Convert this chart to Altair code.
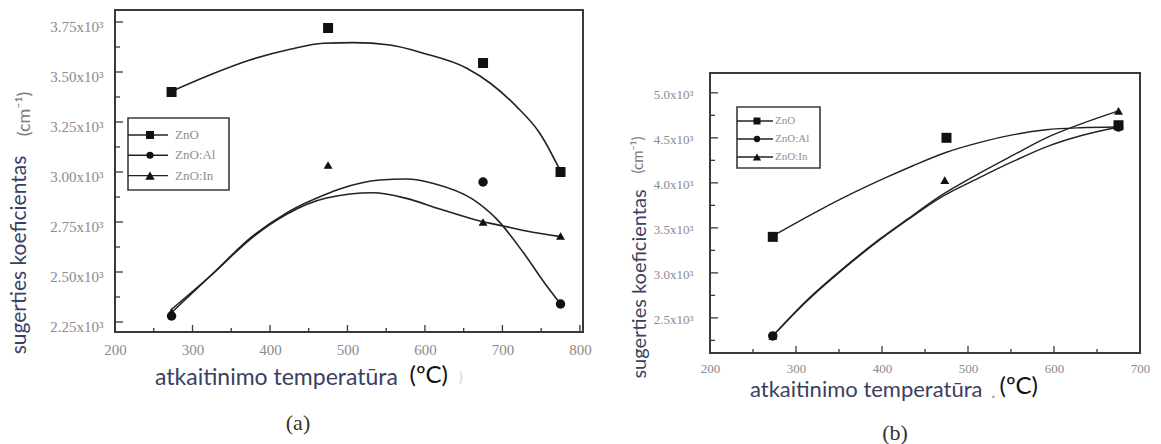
import altair as alt
import pandas as pd

SERIES = ["ZnO", "ZnO:Al", "ZnO:In"]
SHAPES = ["square", "circle", "triangle-up"]

# ---- (a) measured absorption coefficients (x10^3 cm^-1) ----
A_ZNO_T = [273, 475, 675, 775]
A_ZNO_V = [3.40, 3.72, 3.545, 3.00]
A_AL_T = [273, 675, 775]
A_AL_V = [2.28, 2.95, 2.34]
A_IN_T = [273, 475, 675, 775]
A_IN_V = [2.30, 3.035, 2.75, 2.68]

# ---- (a) fitted curves ----
A_ZNO_FIT_T = [273, 323, 374, 426, 469, 508, 555, 598, 654, 684, 718, 748, 775]
A_ZNO_FIT_V = [3.403, 3.486, 3.560, 3.614, 3.644, 3.647, 3.635, 3.594, 3.519, 3.445, 3.328, 3.195, 3.004]
A_AL_FIT_T = [271, 323, 378, 422, 473, 490, 542, 576, 611, 662, 693, 727, 757, 775]
A_AL_FIT_V = [2.290, 2.480, 2.680, 2.797, 2.890, 2.915, 2.960, 2.965, 2.943, 2.863, 2.763, 2.597, 2.431, 2.340]
A_IN_FIT_T = [272, 323, 378, 422, 473, 533, 576, 619, 671, 701, 731, 775]
A_IN_FIT_V = [2.310, 2.480, 2.675, 2.790, 2.870, 2.896, 2.868, 2.815, 2.755, 2.730, 2.705, 2.677]

# ---- (b) measured absorption coefficients ----
B_ZNO_T = [273, 475, 675]
B_ZNO_V = [3.40, 4.50, 4.64]
B_AL_T = [273, 675]
B_AL_V = [2.30, 4.62]
B_IN_T = [273, 473, 675]
B_IN_V = [2.30, 4.03, 4.80]

# ---- (b) fitted curves ----
B_ZNO_FIT_T = [273, 328, 367, 405, 436, 475, 514, 553, 591, 630, 673]
B_ZNO_FIT_V = [3.41, 3.70, 3.89, 4.06, 4.19, 4.34, 4.45, 4.535, 4.59, 4.612, 4.62]
B_AL_FIT_T = [273, 312, 351, 398, 430, 467, 514, 553, 591, 630, 675]
B_AL_FIT_V = [2.30, 2.68, 3.01, 3.37, 3.59, 3.83, 4.06, 4.24, 4.40, 4.52, 4.62]
B_IN_FIT_T = [273, 312, 351, 398, 430, 467, 514, 553, 591, 630, 675]
B_IN_FIT_V = [2.30, 2.69, 3.02, 3.38, 3.60, 3.85, 4.11, 4.31, 4.50, 4.65, 4.80]

# ---- axis ticks ----
A_X_LABELS = [200, 300, 400, 500, 600, 700, 800]
A_X_MAJOR = [300, 400, 500, 600, 700, 800]
A_X_MINOR = [250, 350, 450, 550, 650, 750]
A_Y_MAJOR = [2.25, 2.50, 2.75, 3.00, 3.25, 3.50, 3.75]
A_Y_MINOR = [2.375, 2.625, 2.875, 3.125, 3.375, 3.625]

B_X_LABELS = [200, 300, 400, 500, 600, 700]
B_X_MAJOR = [300, 400, 500, 600]
B_X_MINOR = [250, 350, 450, 550, 650]
B_Y_MAJOR = [2.5, 3.0, 3.5, 4.0, 4.5, 5.0]
B_Y_MINOR = [2.25, 2.75, 3.25, 3.75, 4.25, 4.75]

SERIF = "Liberation Serif"
SANS = "Lato"
FRAME = "#3a3a3a"
INK = "#222222"
GRAY = "#8a8a8a"
TITLE_INK = "#3a4062"


def long_table(groups):
    rows = []
    for name, ts, vs in groups:
        for t, v in zip(ts, vs):
            rows.append({"series": name, "t": t, "v": v})
    return pd.DataFrame(rows)


def one_row():
    return alt.Data(values=[{}])


def text_layer(txt, x, y, size, color, font, angle=0, align="center", weight="normal"):
    return alt.Chart(one_row()).mark_text(
        text=txt, font=font, fontSize=size, color=color, angle=angle,
        align=align, baseline="middle", fontWeight=weight,
    ).encode(x=alt.value(x), y=alt.value(y))


def build_panel(c):
    W, H, top = c["W"], c["H"], c["top"]
    xs = alt.Scale(domain=c["xdom"], nice=False, zero=False)
    ys = alt.Scale(domain=c["ydom"], range=[H, top], nice=False, zero=False)

    x_axis = alt.Axis(
        values=c["xlabels"], title=None, ticks=False, domain=False, grid=False,
        labelFont=SERIF, labelFontSize=c["xlab_size"], labelColor=GRAY,
        labelPadding=c["xlab_pad"], labelAngle=0, labelFlush=False, format="d",
        zindex=1,
    )
    y_axis = alt.Axis(
        values=c["ymajor"], title=None, ticks=False, domain=False, grid=False,
        labelFont=SERIF, labelFontSize=c["ylab_size"], labelColor=GRAY,
        labelPadding=c["ylab_pad"], labelFlush=False, labelOffset=c["ylab_off"],
        labelExpr=f"format(datum.value, '{c['yfmt']}') + 'x10³'",
        zindex=1,
    )
    X = lambda: alt.X("t:Q", scale=xs, axis=x_axis, title=None)
    Y = lambda: alt.Y("v:Q", scale=ys, axis=y_axis, title=None)

    fits = long_table(c["fits"])
    pts = long_table(c["pts"])

    layers = []
    if c.get("canvas"):
        cx0, cy0, cx1, cy1 = c["canvas"]
        layers.append(
            alt.Chart(one_row()).mark_rect(fill="white", strokeWidth=0).encode(
                x=alt.value(cx0), x2=alt.value(cx1), y=alt.value(cy0), y2=alt.value(cy1)
            )
        )

    layers.append(
        alt.Chart(fits).mark_line(color=INK, strokeWidth=c["lw"], interpolate="monotone")
        .encode(x=X(), y=Y(), detail="series:N")
    )
    layers.append(
        alt.Chart(pts).mark_point(filled=True, color="#111111", opacity=1).encode(
            x=X(), y=Y(),
            shape=alt.Shape("series:N", scale=alt.Scale(domain=SERIES, range=SHAPES), legend=None),
            size=alt.Size("series:N", scale=alt.Scale(domain=SERIES, range=c["msizes"]), legend=None),
        )
    )

    # inward tick marks along the bottom and left edges
    for vals, ln in ((c["xmajor"], 7), (c["xminor"], 4)):
        layers.append(
            alt.Chart(pd.DataFrame({"t": vals})).mark_rule(color=FRAME, strokeWidth=1.3).encode(
                x=X(), y=alt.value(H), y2=alt.value(H - ln)
            )
        )
    for vals, ln in ((c["ymajor"], 8), (c["yminor"], 5)):
        layers.append(
            alt.Chart(pd.DataFrame({"v": vals})).mark_rule(color=FRAME, strokeWidth=1.3).encode(
                y=Y(), x=alt.value(0), x2=alt.value(ln)
            )
        )

    # plot frame
    layers.append(
        alt.Chart(one_row()).mark_rect(filled=False, stroke=FRAME, strokeWidth=2).encode(
            x=alt.value(0), x2=alt.value(W), y=alt.value(top), y2=alt.value(H)
        )
    )

    # legend box
    lg = c["legend"]
    layers.append(
        alt.Chart(one_row()).mark_rect(filled=False, stroke=FRAME, strokeWidth=1.6).encode(
            x=alt.value(lg["x0"]), x2=alt.value(lg["x1"]), y=alt.value(lg["y0"]), y2=alt.value(lg["y1"])
        )
    )
    for i, (name, shp, ms) in enumerate(zip(SERIES, SHAPES, lg["msizes"])):
        ry = lg["row0"] + i * lg["gap"]
        layers.append(
            alt.Chart(one_row()).mark_rule(color=INK, strokeWidth=1.4).encode(
                x=alt.value(lg["x0"]), x2=alt.value(lg["line_end"]), y=alt.value(ry)
            )
        )
        layers.append(
            alt.Chart(one_row()).mark_point(
                filled=True, color="#111111", opacity=1, shape=shp, size=ms
            ).encode(x=alt.value(lg["mx"]), y=alt.value(ry))
        )
        layers.append(text_layer(name, lg["tx"], ry, lg["fs"], "#8f8f8f", SERIF, align="left"))

    # axis titles and panel letter
    for t in c["texts"]:
        layers.append(text_layer(*t))

    return alt.layer(*layers).properties(width=W, height=H)


panel_a = build_panel(dict(
    W=468, H=322, top=0,
    xdom=[200, 804], ydom=[2.2, 3.81],
    xlabels=A_X_LABELS, xmajor=A_X_MAJOR, xminor=A_X_MINOR,
    ymajor=A_Y_MAJOR, yminor=A_Y_MINOR, yfmt=".2f",
    xlab_size=15, xlab_pad=10, ylab_size=15, ylab_pad=12, ylab_off=4,
    lw=1.6, msizes=[100, 80, 140],
    canvas=(-115, -10, 1046, 434),
    fits=[("ZnO", A_ZNO_FIT_T, A_ZNO_FIT_V), ("ZnO:Al", A_AL_FIT_T, A_AL_FIT_V),
          ("ZnO:In", A_IN_FIT_T, A_IN_FIT_V)],
    pts=[("ZnO", A_ZNO_T, A_ZNO_V), ("ZnO:Al", A_AL_T, A_AL_V), ("ZnO:In", A_IN_T, A_IN_V)],
    legend=dict(x0=13, x1=114, y0=108, y1=180, row0=125, gap=20.3,
                line_end=53, mx=35, tx=60, fs=13, msizes=[64, 50, 90]),
    texts=[
        ("sugerties koeficientas", -95, 245, 21, TITLE_INK, SANS, 270),
        ("(cm⁻¹)", -90, 104, 18, "#7a7a7a", SANS, 270),
        ("atkaitinimo temperatūra", 40, 368, 23, TITLE_INK, SANS, 0, "left"),
        ("(ºC)", 333, 366, 24, "#111111", SANS, 0, "right"),
        (")", 344, 368, 14, "#d0d0d0", SANS, 0, "left"),
        ("(a)", 183, 413, 22, "#333333", SERIF),
    ],
))

panel_b = build_panel(dict(
    W=430, H=343, top=63,
    xdom=[200, 700], ydom=[2.11, 5.22],
    xlabels=B_X_LABELS, xmajor=B_X_MAJOR, xminor=B_X_MINOR,
    ymajor=B_Y_MAJOR, yminor=B_Y_MINOR, yfmt=".1f",
    xlab_size=13, xlab_pad=9, ylab_size=13, ylab_pad=17, ylab_off=2,
    lw=1.4, msizes=[64, 55, 100],
    fits=[("ZnO", B_ZNO_FIT_T, B_ZNO_FIT_V), ("ZnO:Al", B_AL_FIT_T, B_AL_FIT_V),
          ("ZnO:In", B_IN_FIT_T, B_IN_FIT_V)],
    pts=[("ZnO", B_ZNO_T, B_ZNO_V), ("ZnO:Al", B_AL_T, B_AL_V), ("ZnO:In", B_IN_T, B_IN_V)],
    legend=dict(x0=27, x1=110, y0=97, y1=158, row0=111, gap=18,
                line_end=63, mx=47, tx=65, fs=11, msizes=[49, 40, 70]),
    texts=[
        ("sugerties koeficientas", -70, 274, 20, TITLE_INK, SANS, 270),
        ("(cm⁻¹)", -72, 145, 15, "#7a7a7a", SANS, 270),
        ("atkaitinimo temperatūra", 40, 380, 22, TITLE_INK, SANS, 0, "left"),
        (".", 281, 382, 20, "#9aa0b0", SANS, 0, "left"),
        ("(ºC)", 328, 377, 24, "#111111", SANS, 0, "right"),
        ("(b)", 185, 423, 22, "#333333", SERIF),
    ],
))

chart = (
    alt.hconcat(panel_a, panel_b, spacing=127, bounds="flush")
    .properties(padding=0, background="white")
    .configure_view(strokeWidth=0)
)

chart.save("out.html", embed_options={"renderer": "svg", "actions": False})
